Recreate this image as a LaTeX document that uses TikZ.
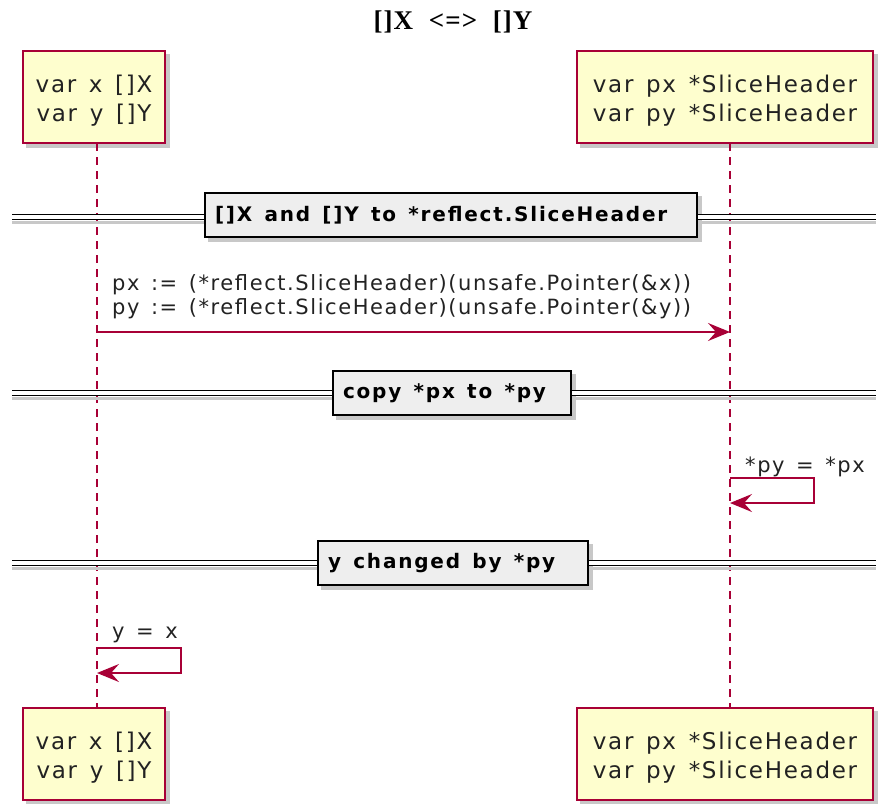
\documentclass[tikz,border=0pt]{standalone}
\usepackage{fontspec}
\setmainfont[LetterSpace=7.5, WordSpace=1.4]{DejaVu Sans}
\newfontfamily\divfont[LetterSpace=9, WordSpace=1.4]{DejaVu Sans}
\newfontfamily\titlefont[LetterSpace=4]{Liberation Serif}
\usetikzlibrary{arrows.meta,backgrounds}
\definecolor{pborder}{HTML}{A80036}
\definecolor{pfill}{HTML}{FEFECE}
\definecolor{dfill}{HTML}{EEEEEE}
\definecolor{txt}{HTML}{222222}
\definecolor{shade}{HTML}{C8C8C8}
\tikzset{
  part/.style={draw=pborder, fill=pfill, line width=1.5pt, inner sep=0pt,
    minimum height=92pt, text=txt,
    font=\fontsize{23}{29}\selectfont},
  lifeline/.style={draw=pborder, line width=1.3pt, dash pattern=on 8pt off 6pt},
  divbox/.style={draw=black, fill=dfill, line width=2pt, inner ysep=0pt, inner xsep=10pt,
    minimum height=44pt, font=\divfont\bfseries\fontsize{20}{23}\selectfont},
  divline/.style={draw=black, line width=1.3pt, double=white, double distance=3.5pt},
  divshadow/.style={draw=shade, line width=3pt},
  boxshadow/.style={fill=shade},
  msg/.style={draw=pborder, line width=1.5pt, -{Stealth[length=22pt,width=18pt,inset=8pt]}},
  msgtext/.style={inner sep=0pt, text=txt, align=left,
    font=\fontsize{21}{24}\selectfont},
}
\newcommand{\boxshade}[1]{%
  \begin{scope}[on background layer]
    \fill[boxshadow] ([shift={(4pt,-4pt)}]#1.north west) rectangle ([shift={(4pt,-4pt)}]#1.south east);
  \end{scope}}
\newcommand{\twolines}[2]{\raisebox{-4pt}[\height][\depth]{\begin{tabular}{@{}c@{}}#1\\#2\end{tabular}}}
\begin{document}
\begin{tikzpicture}[x=1pt,y=-1pt]
\useasboundingbox (0,0) rectangle (882,803);
% title
\node[font=\titlefont\bfseries\fontsize{27}{29}\selectfont, inner sep=0pt, anchor=base] (title) at (453,29) {[]X\ \ <=>\ \ []Y};
% lifeline coordinates
\coordinate (la1) at (97,143);
\coordinate (la2) at (97,708);
\coordinate (lb1) at (730,143);
\coordinate (lb2) at (730,708);
\draw[lifeline] (la1) -- (la2);
\draw[lifeline] (lb1) -- (lb2);
% participants
\node[part, minimum width=142pt] (xa) at (94,97) {\twolines{var x []X}{var y []Y}};
\node[part, minimum width=296pt] (pa) at (725,97) {\twolines{var px *SliceHeader}{var py *SliceHeader}};
\node[part, minimum width=142pt] (xb) at (94,754) {\twolines{var x []X}{var y []Y}};
\node[part, minimum width=296pt] (pb) at (725,754) {\twolines{var px *SliceHeader}{var py *SliceHeader}};
\boxshade{xa}\boxshade{pa}\boxshade{xb}\boxshade{pb}
% divider 1
\coordinate (d1l) at (12,217);
\coordinate (d1r) at (876,217);
\draw[divshadow] ([yshift=-5pt]d1l) -- ([yshift=-5pt]d1r);
\draw[divline] (d1l) -- (d1r);
\node[divbox] (div1) at (451,215) {\makebox[472pt][l]{[]X and []Y to *reflect.SliceHeader}};
\boxshade{div1}
% message 1
\coordinate (m1a) at (97,332);
\coordinate (m1b) at (730,332);
\draw[msg] (m1a) -- (m1b);
\node[msgtext, anchor=south west] (m1t) at (112,319) {px := (*reflect.SliceHeader)(unsafe.Pointer(\&x))\\py := (*reflect.SliceHeader)(unsafe.Pointer(\&y))};
% divider 2
\coordinate (d2l) at (12,393);
\coordinate (d2r) at (876,393);
\draw[divshadow] ([yshift=-5pt]d2l) -- ([yshift=-5pt]d2r);
\draw[divline] (d2l) -- (d2r);
\node[divbox] (div2) at (452,393) {\makebox[218pt][l]{copy *px to *py}};
\boxshade{div2}
% self message 1
\coordinate (s1a) at (730,478);
\coordinate (s1b) at (814,478);
\coordinate (s1c) at (814,503);
\coordinate (s1d) at (730,503);
\draw[msg] (s1a) -- (s1b) -- (s1c) -- (s1d);
\node[msgtext, anchor=base west] (s1t) at (745,472) {*py = *px};
% divider 3
\coordinate (d3l) at (12,563);
\coordinate (d3r) at (876,563);
\draw[divshadow] ([yshift=-5pt]d3l) -- ([yshift=-5pt]d3r);
\draw[divline] (d3l) -- (d3r);
\node[divbox] (div3) at (453,563) {\makebox[250pt][l]{y changed by *py}};
\boxshade{div3}
% self message 2
\coordinate (s2a) at (97,648);
\coordinate (s2b) at (181,648);
\coordinate (s2c) at (181,673);
\coordinate (s2d) at (97,673);
\draw[msg] (s2a) -- (s2b) -- (s2c) -- (s2d);
\node[msgtext, anchor=base west] (s2t) at (112,638) {y = x};
\end{tikzpicture}
\end{document}
